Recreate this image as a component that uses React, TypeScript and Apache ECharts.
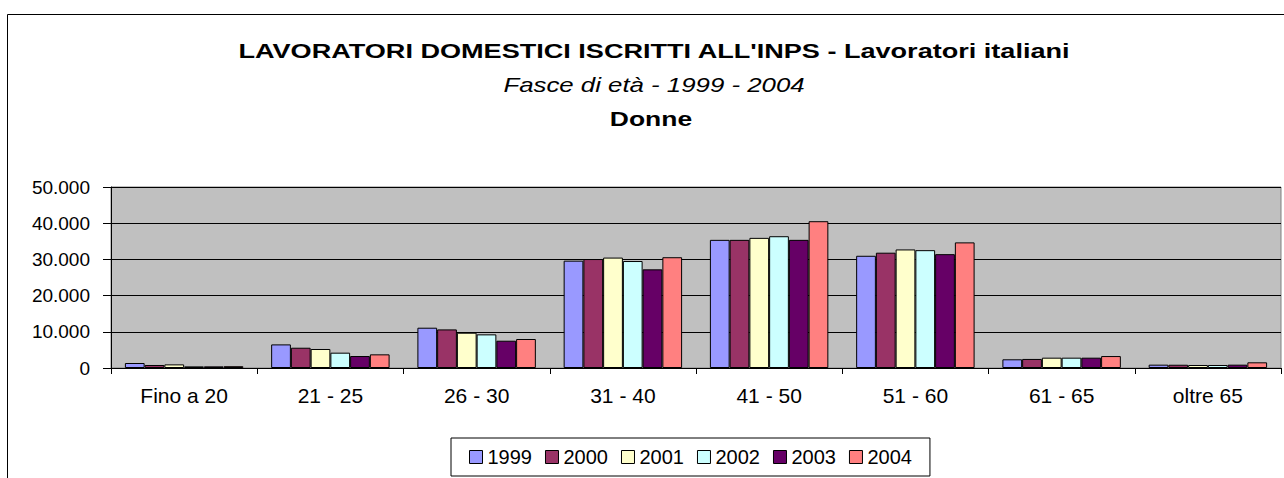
import React, { useEffect, useRef } from "react";
import * as echarts from "echarts";

const categories = ["Fino a 20", "21 - 25", "26 - 30", "31 - 40", "41 - 50", "51 - 60", "61 - 65", "oltre 65"];
const years = ["1999", "2000", "2001", "2002", "2003", "2004"];
const v1999 = [1380, 6520, 11130, 29650, 35400, 31000, 2400, 920];
const v2000 = [830, 5600, 10660, 30100, 35400, 31850, 2500, 900];
const v2001 = [1000, 5250, 9750, 30500, 35950, 32750, 2850, 830];
const v2002 = [450, 4230, 9290, 29550, 36400, 32550, 2850, 830];
const v2003 = [450, 3310, 7540, 27250, 35400, 31450, 2850, 920];
const v2004 = [500, 3770, 8010, 30600, 40550, 34700, 3300, 1570];
const seriesValues = [v1999, v2000, v2001, v2002, v2003, v2004];
const colors = ["#9999FF", "#993366", "#FFFFCC", "#CCFFFF", "#660066", "#FF8080"];
const titleText = "LAVORATORI DOMESTICI ISCRITTI ALL'INPS - Lavoratori italiani";
const subtitleText = "Fasce di età - 1999 - 2004";
const subtitle2Text = "Donne";

const fmt = (v: number) => String(v).replace(/\B(?=(\d{3})+(?!\d))/g, ".");

export default function App() {
  const ref = useRef<HTMLDivElement>(null);
  useEffect(() => {
    if (!ref.current) return;
    const chart = echarts.init(ref.current, null, { renderer: "svg" });
    const font = "'Liberation Sans', Arial, sans-serif";
    chart.setOption({
      animation: false,
      backgroundColor: "#FFFFFF",
      textStyle: { fontFamily: font },
      graphic: [
        {
          type: "rect",
          shape: { x: 7.5, y: 14.5, width: 1400, height: 600 },
          style: { fill: "none", stroke: "#000000", lineWidth: 1 },
          silent: true,
        },
        {
          type: "text",
          x: 654,
          y: 51,
          scaleX: 1.29,
          style: {
            text: titleText,
            font: `bold 21px ${font}`,
            fill: "#000000",
            align: "center",
            verticalAlign: "middle",
          },
        },
        {
          type: "text",
          x: 654,
          y: 85,
          scaleX: 1.23,
          style: {
            text: subtitleText,
            font: `italic 21px ${font}`,
            fill: "#000000",
            align: "center",
            verticalAlign: "middle",
          },
        },
        {
          type: "text",
          x: 651,
          y: 119,
          scaleX: 1.26,
          style: {
            text: subtitle2Text,
            font: `bold 21px ${font}`,
            fill: "#000000",
            align: "center",
            verticalAlign: "middle",
          },
        },
      ],
      legend: {
        data: years,
        left: 451,
        top: 438,
        padding: [9, 18, 9, 18],
        itemGap: 13,
        itemWidth: 13,
        itemHeight: 13,
        icon: "rect",
        borderColor: "#000000",
        borderWidth: 1,
        backgroundColor: "#FFFFFF",
        itemStyle: { borderColor: "#000000", borderWidth: 1 },
        textStyle: { fontSize: 20, color: "#000000", fontFamily: font },
      },
      grid: {
        left: 111,
        right: 3,
        top: 187,
        bottom: 110,
        show: true,
        backgroundColor: "#C0C0C0",
        borderColor: "#808080",
        borderWidth: 1,
      },
      xAxis: {
        type: "category",
        data: categories,
        boundaryGap: true,
        axisLine: { show: true, lineStyle: { color: "#000000", width: 1 } },
        axisTick: { show: true, length: 6, lineStyle: { color: "#000000" } },
        axisLabel: { color: "#000000", fontSize: 21, margin: 17, fontFamily: font },
      },
      yAxis: {
        type: "value",
        min: 0,
        max: 50000,
        interval: 10000,
        axisLine: { show: true, lineStyle: { color: "#000000", width: 1 } },
        axisTick: { show: true, length: 8, lineStyle: { color: "#000000" } },
        axisLabel: { color: "#000000", fontSize: 19, margin: 21, formatter: fmt, fontFamily: font },
        splitLine: { show: true, lineStyle: { color: "#000000", width: 1 } },
      },
      series: years.map((y, i) => ({
        name: y,
        type: "bar",
        data: seriesValues[i],
        barGap: "0%",
        barCategoryGap: "19%",
        itemStyle: { color: colors[i], borderColor: "#000000", borderWidth: 1 },
      })),
    });
    return () => chart.dispose();
  }, []);
  return (
    <div
      ref={ref}
      style={{ position: "absolute", left: 0, top: 0, width: 1284, height: 478 }}
    />
  );
}
